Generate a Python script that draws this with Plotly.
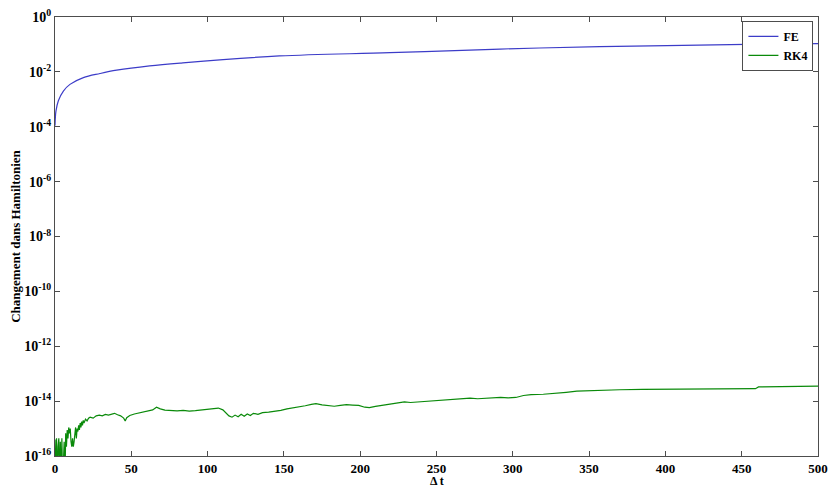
import plotly.graph_objects as go

# Forward Euler: drift of the Hamiltonian versus time
fe_t = [0, 0.2, 0.65, 2.2, 5.5, 9.8, 18.6, 29.5, 40.4, 62, 82, 147, 219.5, 291.6, 357, 453, 500]
fe_dh = [1.1e-4, 2.0e-4, 3.8e-4, 8.9e-4, 2.0e-3, 3.5e-3, 6.2e-3, 8.7e-3, 1.15e-2,
         1.66e-2, 2.1e-2, 3.8e-2, 5.0e-2, 6.8e-2, 8.3e-2, 1.0e-1, 1.07e-1]

# Runge-Kutta 4: round-off level drift (values below 1e-16 fall off the axis)
rk4_t = [0, 0.5, 1.0, 1.5, 2.0, 2.5, 3.0, 3.5, 4.0, 4.5, 5.0, 5.5, 6.0, 6.5, 7.0, 7.5,
         8.0, 8.5, 9.0, 9.5, 10.0, 10.5, 11.0, 11.5, 12.0, 12.5, 13.0, 13.5, 14.0, 14.5,
         15.0, 15.5, 16.0, 16.5, 17.0, 17.5, 18.0, 18.5, 19.0, 19.5, 20, 21, 22, 23, 25,
         27, 29, 31, 33, 35, 37, 39, 41, 43, 45, 46, 47, 49, 52, 55, 58, 61, 64, 66.5,
         69, 72, 76, 80, 84, 88, 92, 96, 100, 104, 107, 110, 112, 114, 116, 118, 120,
         122, 124, 126, 128, 130, 133, 136, 140, 144, 148, 152, 156, 160, 164, 168, 171,
         175, 179, 183, 187, 191, 195, 199, 203, 206, 210, 215, 220, 225, 229, 233, 238,
         243, 248, 253, 258, 263, 268, 272, 277, 282, 287, 292, 297, 302, 307, 312, 320,
         328, 335, 342, 350, 358, 370, 385, 400, 420, 440, 459, 461, 480, 500]
rk4_dh = [4e-16, 1e-17, 4.4e-16, 1e-17, 2.2e-16, 4.4e-16, 1e-17, 3.3e-16, 1e-17, 4.4e-16,
          1e-17, 2.2e-16, 3.3e-16, 1e-17, 6.7e-16, 2.2e-16, 8.9e-16, 4.4e-16, 1.1e-15,
          6.7e-16, 1.0e-15, 3.3e-16, 2.2e-16, 4.4e-16, 2.2e-16, 3.3e-16, 6.7e-16, 1.1e-15,
          4.4e-16, 1.0e-15, 7.8e-16, 1.3e-15, 8.9e-16, 1.6e-15, 1.1e-15, 1.8e-15, 1.3e-15,
          2.0e-15, 1.6e-15, 1.8e-15, 2.2e-15, 1.9e-15, 2.4e-15, 2.6e-15, 2.4e-15, 2.9e-15,
          3.1e-15, 2.9e-15, 3.3e-15, 3.1e-15, 3.4e-15, 3.6e-15, 3.2e-15, 2.9e-15, 2.4e-15,
          1.9e-15, 2.5e-15, 3.0e-15, 3.4e-15, 3.7e-15, 3.9e-15, 4.3e-15, 4.8e-15, 6.0e-15,
          5.2e-15, 4.7e-15, 4.6e-15, 4.4e-15, 4.6e-15, 4.3e-15, 4.5e-15, 4.8e-15, 4.9e-15,
          5.3e-15, 5.6e-15, 4.8e-15, 3.6e-15, 2.9e-15, 2.6e-15, 3.1e-15, 2.7e-15, 3.3e-15,
          2.8e-15, 3.4e-15, 3.0e-15, 3.6e-15, 3.3e-15, 3.8e-15, 4.0e-15, 4.2e-15, 4.6e-15,
          5.2e-15, 5.6e-15, 6.0e-15, 6.8e-15, 7.6e-15, 8.1e-15, 7.3e-15, 6.8e-15, 6.5e-15,
          7.0e-15, 7.4e-15, 7.2e-15, 7.0e-15, 6.0e-15, 5.8e-15, 6.4e-15, 7.2e-15, 7.8e-15,
          8.6e-15, 9.4e-15, 8.9e-15, 9.3e-15, 9.8e-15, 1.02e-14, 1.05e-14, 1.1e-14,
          1.14e-14, 1.2e-14, 1.28e-14, 1.22e-14, 1.28e-14, 1.36e-14, 1.38e-14, 1.32e-14,
          1.36e-14, 1.6e-14, 1.72e-14, 1.78e-14, 1.9e-14, 2.1e-14, 2.3e-14, 2.4e-14,
          2.5e-14, 2.6e-14, 2.7e-14, 2.75e-14, 2.8e-14, 2.8e-14, 2.85e-14, 3.3e-14,
          3.4e-14, 3.55e-14]

x_ticks = [0, 50, 100, 150, 200, 250, 300, 350, 400, 450, 500]
y_exponents = [0, -2, -4, -6, -8, -10, -12, -14, -16]

FONT = "Liberation Serif"
AXIS_COLOR = "#4d4d4d"

fig = go.Figure()
fig.add_trace(go.Scatter(x=fe_t, y=fe_dh, mode="lines", name="FE",
                         line=dict(color="#3c3cc8", width=1.2, shape="spline")))
fig.add_trace(go.Scatter(x=rk4_t, y=rk4_dh, mode="lines", name="RK4",
                         line=dict(color="#0a8a0a", width=1.2)))

axis_common = dict(showline=True, linecolor=AXIS_COLOR, linewidth=1, mirror="allticks",
                   ticks="inside", ticklen=5, tickcolor=AXIS_COLOR, showgrid=False,
                   zeroline=False, automargin=False)

fig.update_xaxes(range=[0, 500], tickvals=x_ticks, ticktext=[str(v) for v in x_ticks],
                 ticklabelstandoff=0,
                 tickfont=dict(family=FONT, size=13, color="black", weight="bold"),
                 **axis_common)
fig.update_yaxes(type="log", range=[-16, 0],
                 tickvals=[10.0 ** e for e in y_exponents],
                 ticktext=[f"10<sup>{e}</sup>" for e in y_exponents],
                 tickfont=dict(family=FONT, size=14, color="black", weight="bold"),
                 title=dict(text="Changement dans Hamiltonien", standoff=0,
                            font=dict(family=FONT, size=13, color="black", weight="bold")),
                 **axis_common)

# x-axis title placed just under the tick labels
fig.add_annotation(text="\u0394 t", xref="paper", yref="paper", x=0.5, y=0,
                   yshift=-25, xanchor="center", yanchor="middle", showarrow=False,
                   font=dict(family=FONT, size=12, color="black", weight="bold"))

fig.update_layout(
    width=830, height=489,
    margin=dict(l=55, r=12, t=17, b=33),
    paper_bgcolor="white", plot_bgcolor="white",
    showlegend=True,
    legend=dict(x=0.994, y=0.991, xanchor="right", yanchor="top",
                bgcolor="white", bordercolor=AXIS_COLOR, borderwidth=1,
                font=dict(family=FONT, size=12, color="black", weight="bold"),
                tracegroupgap=0, itemwidth=30),
)

fig.write_html("out.html")
